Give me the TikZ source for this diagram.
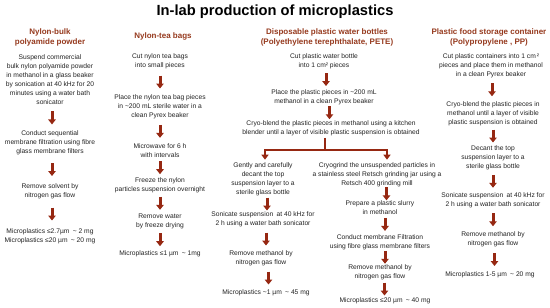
\documentclass[tikz,border=0pt]{standalone}
\usepackage{fontspec}
\setmainfont{Liberation Sans}
\usetikzlibrary{arrows.meta,calc}
\definecolor{arrowc}{RGB}{150,40,18}
\definecolor{headc}{RGB}{150,58,30}
\definecolor{textc}{RGB}{35,35,35}
\tikzset{
  body/.style={align=center,inner sep=0pt,text=textc,font=\fontsize{6.7}{9}\selectfont},
  head/.style={align=center,inner sep=0pt,text=headc,font=\fontsize{8}{10}\selectfont\bfseries},
  arr/.style={draw=arrowc,line width=3pt,-{Triangle[width=7.5pt,length=5pt]}},
  brline/.style={draw=arrowc,line width=1.8pt},
  brarr/.style={draw=arrowc,line width=1.8pt,-{Triangle[width=7pt,length=5pt]}}
}
\newcommand\flowarrow[3][0]{\draw[arr] ($(#2.south)!.5!(#3.north)+(#1,-6.5)$) -- ++(0,13);}
\begin{document}
\begin{tikzpicture}[x=1pt,y=-1pt]
\useasboundingbox[fill=white] (0,0) rectangle (550,308);
\node[inner sep=0pt,font=\fontsize{14.7}{17}\selectfont\bfseries] (title) at (275,12) {In-lab production of microplastics};
% headings
\node[head] (h1) at (50,37) {Nylon-bulk\\polyamide powder};
\node[head] (h2) at (163,36) {Nylon-tea bags};
\node[head] (h3) at (327,37) {Disposable plastic water bottles\\(Polyethylene terephthalate, PETE)};
\node[head] (h4) at (489,37) {Plastic food storage container\\(Polypropylene , PP)};
% column 1
\node[body] (a1) at (50,80) {Suspend commercial\\bulk nylon polyamide powder\\in methanol in a glass beaker\\by sonication at 40 kHz for 20\\minutes using a water bath\\sonicator};
\node[body] (a2) at (50,143) {Conduct sequential\\membrane filtration using fibre\\glass membrane filters};
\node[body] (a3) at (50,191.5) {Remove solvent by\\nitrogen gas flow};
\node[body] (a4) at (50,236.5) {Microplastics ≤2.7µm\enspace\textasciitilde{} 2 mg\\Microplastics ≤20 µm\enspace\textasciitilde{} 20 mg};
\flowarrow[2]{a1}{a2}
\flowarrow[2]{a2}{a3}
\flowarrow[2]{a3}{a4}
% column 2
\node[body] (b1) at (160,61.5) {Cut nylon tea bags\\into small pieces};
\node[body] (b2) at (160,107) {Place the nylon tea bag pieces\\in \textasciitilde200 mL sterile water in a\\clean Pyrex beaker};
\node[body] (b3) at (160,150.5) {Microwave for 6 h\\with intervals};
\node[body] (b4) at (160,185.5) {Freeze the nylon\\particles suspension overnight};
\node[body] (b5) at (160,221) {Remove water\\by freeze drying};
\node[body] (b6) at (160,254) {Microplastics ≤1 µm\enspace\textasciitilde{} 1mg};
\flowarrow{b1}{b2}
\flowarrow{b2}{b3}
\flowarrow{b3}{b4}
\flowarrow{b4}{b5}
\flowarrow{b5}{b6}
% column 3
\node[body] (c1) at (324,61.5) {Cut plastic water bottle\\into 1 cm² pieces};
\node[body] (c2) at (324,97.5) {Place the plastic pieces in \textasciitilde200 mL\\methanol in a clean Pyrex beaker};
\node[body] (c3) at (331,128) {Cryo-blend the plastic pieces in methanol using a kitchen\\blender until a layer of visible plastic suspension is obtained};
\flowarrow[2]{c1}{c2}
\flowarrow[2]{c2}{c3}
\coordinate (brk) at (325,150);
\coordinate (bl) at (265,150);
\coordinate (bR) at (387,150);
% left branch
\node[body] (c4) at (263,179.5) {Gently and carefully\\decant the top\\suspension layer to a\\sterile glass bottle};
\node[body] (c5) at (263,219.5) {Sonicate suspension\enspace at 40 kHz for\\2 h using a water bath sonicator};
\node[body] (c6) at (261,258.5) {Remove methanol by\\nitrogen gas flow};
\node[body] (c7) at (266,293) {Microplastics \textasciitilde1 µm\enspace\textasciitilde{} 45 mg};
% right branch
\node[body] (d1) at (377,175) {Cryogrind the unsuspended particles in\\a stainless steel Retsch grinding jar using a\\Retsch 400 grinding mill};
\node[body] (d2) at (380,207.5) {Prepare a plastic slurry\\in methanol};
\node[body] (d3) at (380,242) {Conduct membrane Filtration\\using fibre glass membrane filters};
\node[body] (d4) at (380,272.5) {Remove methanol by\\nitrogen gas flow};
\node[body] (d5) at (385,301) {Microplastics ≤20 µm\enspace\textasciitilde{} 40 mg};
\draw[brline,shorten <=2pt] (c3.south -| brk) -- (brk);
\draw[brline] ([xshift=-0.9pt]bl) -- ([xshift=0.9pt]bR);
\draw[brarr,shorten >=3pt] (bl) -- (bl |- c4.north);
\draw[brarr,shorten >=3pt] (bR) -- (bR |- d1.north);
\flowarrow[4]{c4}{c5}
\flowarrow[4]{c5}{c6}
\flowarrow[5]{c6}{c7}
\flowarrow[8]{d1}{d2}
\flowarrow[5]{d2}{d3}
\flowarrow[5]{d3}{d4}
\flowarrow[2]{d4}{d5}
% column 4
\node[body] (e1) at (491,65.5) {Cut plastic containers into 1 cm\,²\\pieces and place them in methanol\\in a clean Pyrex beaker};
\node[body] (e2) at (493,114) {Cryo-blend the plastic pieces in\\methanol until a layer of visible\\plastic suspension is obtained};
\node[body] (e3) at (493,158) {Decant the top\\suspension layer to a\\sterile glass bottle};
\node[body] (e4) at (493,200) {Sonicate suspension\enspace at 40 kHz for\\2 h using a water bath sonicator};
\node[body] (e5) at (493,239.5) {Remove methanol by\\nitrogen gas flow};
\node[body] (e6) at (490,275) {Microplastics 1-5 µm\enspace\textasciitilde{} 20 mg};
\flowarrow{e1}{e2}
\flowarrow{e2}{e3}
\flowarrow{e3}{e4}
\flowarrow{e4}{e5}
\flowarrow[3]{e5}{e6}
\end{tikzpicture}
\end{document}
